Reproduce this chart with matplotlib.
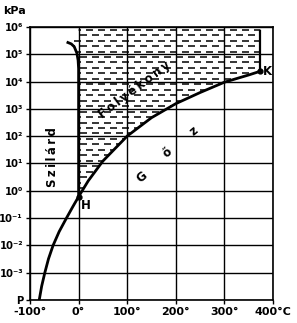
import numpy as np
import matplotlib
matplotlib.use("Agg")
import matplotlib.pyplot as plt
from matplotlib.path import Path
from matplotlib.patches import PathPatch
from matplotlib.collections import LineCollection

# ---- data ----
# liquid-gas (vapour pressure) curve, H -> K
vap_T = [0.01, 20, 50, 100, 150, 200, 250, 300, 350, 374]
vap_P = [0.611, 2.34, 12.3, 101, 476, 1555, 3976, 9500, 17500, 24000]
# solid-gas (sublimation) curve
sub_T = [-81, -76, -69.5, -62, -52.5, -40, -25, -12, 0.01]
sub_P = [1e-4, 3.2e-4, 1e-3, 3.2e-3, 1e-2, 3.2e-2, 1e-1, 0.26, 0.611]
# solid-liquid (melting) curve
melt_T = [0.01, 0, 0, -1, -3.5, -9, -15, -22]
melt_P = [0.611, 1e3, 3e4, 6e4, 1.1e5, 1.9e5, 2.4e5, 2.7e5]
# critical isotherm
crit_T = [374, 374]
crit_P = [24000, 7e5]

xticks = [-100, 0, 100, 200, 300, 400]
xtick_labels = ["-100°", "0°", "100°", "200°", "300°", "400°C"]
yticks = [1e-4, 1e-3, 1e-2, 1e-1, 1e0, 1e1, 1e2, 1e3, 1e4, 1e5, 1e6]
ytick_labels = ["P", "10⁻³", "10⁻²", "10⁻¹", "10⁰",
                "10¹", "10²", "10³", "10⁴", "10⁵", "10⁶"]

FAM = ['Liberation Sans Narrow', 'DejaVu Sans']
plt.rcParams['font.family'] = FAM
plt.rcParams['font.weight'] = 'bold'

fig = plt.figure(figsize=(2.97, 3.23), dpi=100)
ax = fig.add_axes([30/297, 1-300/323, 243/297, 273/323])
ax.set_yscale('log')
ax.set_xlim(-100, 400)
ax.set_ylim(1e-4, 1e6)

ax.set_xticks(xticks)
ax.set_xticklabels(xtick_labels, fontsize=8)
ax.set_yticks(yticks)
ax.set_yticklabels(ytick_labels, fontsize=8, family=['DejaVu Sans'], stretch='condensed')
ax.yaxis.set_minor_locator(matplotlib.ticker.NullLocator())
ax.tick_params(direction='out', length=3, width=1.0, pad=2)
ax.grid(True, color='black', linewidth=1.0)
for s in ax.spines.values():
    s.set_linewidth(1.2)

# ---- liquid region (dash texture) ----
poly_T = list(vap_T) + [374, 0, 0] + [melt_T[-1]] + list(melt_T[::-1])
poly_P = list(vap_P) + [1e6, 1e6, 4e5] + [melt_P[-1]] + list(melt_P[::-1])
verts = ax.transData.transform(np.column_stack([poly_T, poly_P]))
clip = PathPatch(Path(verts), transform=None, facecolor='none', edgecolor='none')
ax.add_patch(clip)

W, H = 243.0, 273.0
nrows = 50
row_h = H / nrows
col_w = 12.0
dash = 6.5
segs = []
for r in range(nrows):
    yf = (r + 0.5) * row_h / H
    off = (col_w / 2.0) if r % 2 else 0.0
    x = off + 2
    while x < W:
        segs.append(((x / W, yf), ((x + dash) / W, yf)))
        x += col_w
lc = LineCollection(segs, colors='black', linewidths=1.1, transform=ax.transAxes)
ax.add_collection(lc)
lc.set_clip_path(clip)

# ---- curves ----
ax.plot(vap_T, vap_P, color='black', linewidth=2.0, solid_capstyle='round')
ax.plot(sub_T, sub_P, color='black', linewidth=2.0)
ax.plot(melt_T, melt_P, color='black', linewidth=2.0)
ax.plot(crit_T, crit_P, color='black', linewidth=1.6)
ax.plot([vap_T[0]], [vap_P[0]], 'o', color='black', markersize=3.5)
ax.plot([vap_T[-1]], [vap_P[-1]], 'o', color='black', markersize=3.5)

TS = '\u2009'
ax.text(5, 0.3, "H", fontsize=8.5, ha='left', va='center')
ax.text(380, vap_P[-1], "K", fontsize=8.5, ha='left', va='center')
ax.text(-53, 17, TS.join("Szilárd"), fontsize=8.5, rotation=90, ha='center', va='center')
ax.text(116, 5e3, TS.join("Folyékony"), fontsize=8.5, rotation=37, ha='center', va='center')
ax.text(130, 3.2, "G", fontsize=8.5, rotation=40, ha='center', va='center')
ax.text(182, 25, "ő", fontsize=8.5, rotation=40, ha='center', va='center')
ax.text(238, 160, "z", fontsize=8.5, rotation=40, ha='center', va='center')

fig.text(15/297, 1-11/323, "kPa", fontsize=8, ha='center', va='center')

fig.savefig("out.png", dpi=100)
